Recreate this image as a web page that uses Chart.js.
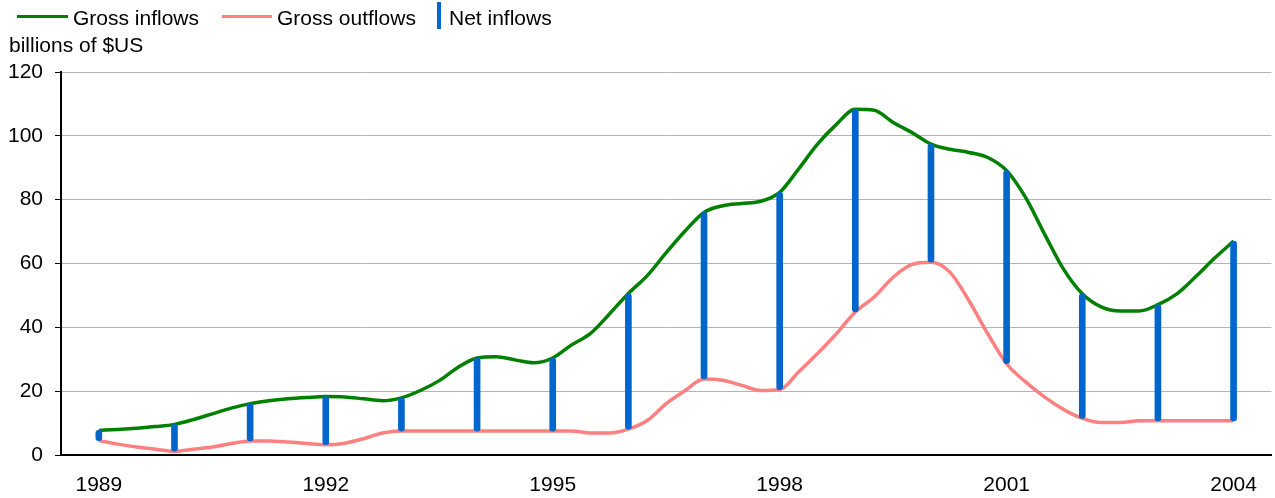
<!DOCTYPE html>
<html>
<head>
<meta charset="utf-8">
<script src="https://cdn.jsdelivr.net/npm/chart.js@4.4.1/dist/chart.umd.min.js"></script>
<style>
    html, body { margin: 0; padding: 0; background: #fff; }
    body { width: 1275px; height: 498px; position: relative; overflow: hidden;
           font-family: 'Liberation Sans', Arial, sans-serif; font-size: 21px; color: #000; }
    .wrap { position: absolute; left: 0; top: 0; width: 1275px; height: 498px; }
    .txt { position: absolute; line-height: 21px; white-space: nowrap; }
    .swatch { position: absolute; }
</style>
</head>
<body>
<div class="wrap"><canvas id="flowsChart" width="1275" height="498"></canvas></div>

<div class="swatch" style="left:17px; top:15px; width:51px; height:3px; background:#008000;"></div>
<div class="txt" style="left:73px; top:7px;">Gross inflows</div>
<div class="swatch" style="left:222px; top:15px; width:50px; height:3px; background:#FF8080;"></div>
<div class="txt" style="left:277px; top:7px;">Gross outflows</div>
<div class="swatch" style="left:437px; top:2px; width:4px; height:27px; background:#0066CC;"></div>
<div class="txt" style="left:449px; top:7px;">Net inflows</div>
<div class="txt" style="left:9px; top:34px;">billions of $US</div>

<script>
// quarterly positions, 1989 to 2004
const quarters = [
    1989.00, 1989.25, 1989.50, 1989.75, 1990.00, 1990.25, 1990.50, 1990.75,
    1991.00, 1991.25, 1991.50, 1991.75, 1992.00, 1992.25, 1992.50, 1992.75,
    1993.00, 1993.25, 1993.50, 1993.75, 1994.00, 1994.25, 1994.50, 1994.75,
    1995.00, 1995.25, 1995.50, 1995.75, 1996.00, 1996.25, 1996.50, 1996.75,
    1997.00, 1997.25, 1997.50, 1997.75, 1998.00, 1998.25, 1998.50, 1998.75,
    1999.00, 1999.25, 1999.50, 1999.75, 2000.00, 2000.25, 2000.50, 2000.75,
    2001.00, 2001.25, 2001.50, 2001.75, 2002.00, 2002.25, 2002.50, 2002.75,
    2003.00, 2003.25, 2003.50, 2003.75, 2004.00
];

const grossInflows = [
    7.7, 8.0, 8.4, 8.9, 9.6, 11.1, 12.9, 14.7,
    16.1, 17.0, 17.6, 18.0, 18.3, 18.2, 17.6, 17.0,
    17.9, 20.2, 23.3, 27.5, 30.4, 30.8, 29.8, 28.9,
    30.4, 34.5, 38.1, 44.2, 50.6, 56.2, 63.4, 70.2,
    76.0, 78.1, 78.8, 79.5, 82.3, 89.6, 97.4, 103.6,
    108.3, 108.0, 104.2, 101.0, 97.4, 95.8, 94.8, 93.2,
    89.1, 80.7, 69.3, 58.3, 50.5, 46.4, 45.1, 45.1,
    47.1, 50.5, 55.9, 61.7, 67.0
];

const grossOutflows = [
    4.5, 3.4, 2.5, 1.8, 1.2, 1.8, 2.5, 3.6,
    4.4, 4.4, 4.1, 3.6, 3.2, 3.7, 5.1, 6.9,
    7.5, 7.5, 7.5, 7.5, 7.5, 7.5, 7.5, 7.5,
    7.5, 7.5, 6.9, 6.9, 8.1, 10.8, 16.1, 20.2,
    23.8, 23.4, 21.8, 20.2, 20.5, 26.0, 31.8, 38.0,
    44.8, 49.5, 55.7, 59.7, 60.4, 57.3, 48.4, 38.0,
    28.6, 22.9, 18.2, 14.3, 11.5, 10.2, 10.2, 10.7,
    10.7, 10.7, 10.7, 10.7, 10.7
];

// net inflow bars are drawn once a year
const netYears = [1989, 1990, 1991, 1992, 1993, 1994, 1995, 1996,
                  1997, 1998, 1999, 2000, 2001, 2002, 2003, 2004];

const xTickYears = [1989, 1992, 1995, 1998, 2001, 2004];
const yTicks = [0, 20, 40, 60, 80, 100, 120];

function pointsOf(values) {
    return values.map((v, i) => ({ x: quarters[i], y: v }));
}

function netBars() {
    return netYears.map(yr => {
        const i = quarters.indexOf(yr);
        return { x: yr, y: [grossOutflows[i], grossInflows[i]] };
    });
}

document.addEventListener('DOMContentLoaded', function () {
    Chart.defaults.font.family = "'Liberation Sans', Arial, sans-serif";
    Chart.defaults.font.size = 21;
    Chart.defaults.color = '#000';

    const ctx = document.getElementById('flowsChart').getContext('2d');
    new Chart(ctx, {
        type: 'line',
        data: {
            datasets: [
                {
                    type: 'bar',
                    label: 'Net inflows',
                    data: netBars(),
                    backgroundColor: '#0066CC',
                    barThickness: 6,
                    borderRadius: 3,
                    borderSkipped: false,
                    order: 0
                },
                {
                    label: 'Gross inflows',
                    data: pointsOf(grossInflows),
                    borderColor: '#008000',
                    borderWidth: 3.5,
                    pointRadius: 0,
                    cubicInterpolationMode: 'monotone',
                    order: 1
                },
                {
                    label: 'Gross outflows',
                    data: pointsOf(grossOutflows),
                    borderColor: '#FF8080',
                    borderWidth: 3.5,
                    pointRadius: 0,
                    cubicInterpolationMode: 'monotone',
                    order: 2
                }
            ]
        },
        options: {
            responsive: false,
            animation: false,
            layout: { padding: { top: 72, right: 2, left: 0, bottom: 0 } },
            plugins: {
                legend: { display: false },
                tooltip: { enabled: false }
            },
            scales: {
                x: {
                    type: 'linear',
                    min: 1988.5,
                    max: 2004.5,
                    offset: false,
                    grid: { display: false, drawTicks: false, offset: false },
                    border: { display: true, color: '#000', width: 2 },
                    afterBuildTicks: scale => {
                        scale.ticks = xTickYears.map(v => ({ value: v }));
                    },
                    ticks: {
                        autoSkip: false,
                        maxRotation: 0,
                        padding: 18,
                        callback: v => String(v)
                    },
                    afterFit: scale => { scale.height = 43; }
                },
                y: {
                    min: 0,
                    max: 120,
                    grid: { color: '#B4B4B4', lineWidth: 1, tickColor: '#000', tickLength: 6 },
                    border: { display: true, color: '#000', width: 2 },
                    afterBuildTicks: scale => {
                        scale.ticks = yTicks.map(v => ({ value: v }));
                    },
                    ticks: { padding: 12 },
                    afterFit: scale => { scale.width = 61; }
                }
            }
        }
    });
});
</script>
</body>
</html>
